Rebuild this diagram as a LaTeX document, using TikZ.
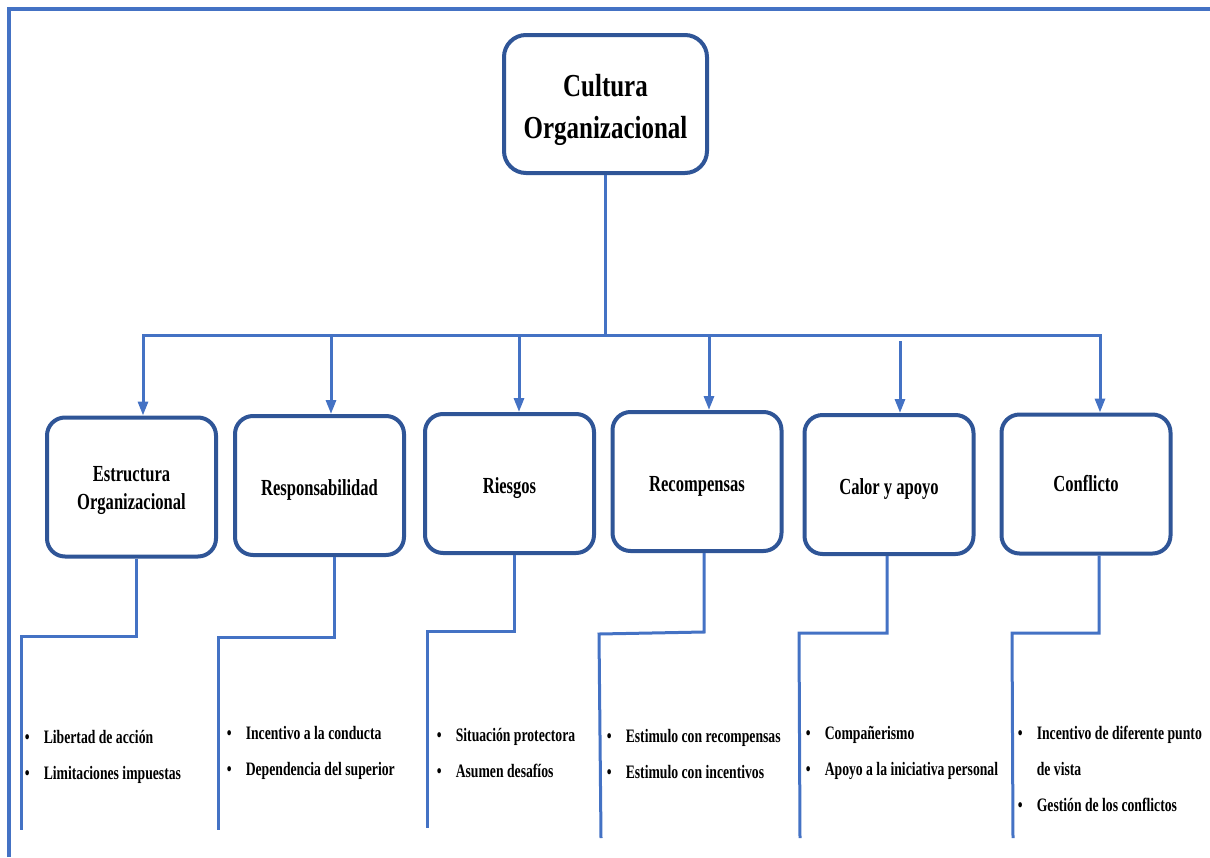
\documentclass[tikz,border=0pt]{standalone}
\usepackage{fontspec}
\setmainfont{Liberation Serif}
\newfontfamily\narrowserif[FakeStretch=0.72]{Liberation Serif}
\newfontfamily\headserif[FakeStretch=0.78]{Liberation Serif}
\usetikzlibrary{arrows.meta}
\definecolor{linkblue}{HTML}{4472C4}
\definecolor{boxblue}{HTML}{2F5597}
\newcommand{\bul}{\makebox[19pt][l]{\textbullet}}
% centred label lowered a little inside its box, keeping its reported size
\newcommand{\lbl}[2]{\raisebox{-#1}[\height][\depth]{\begin{tabular}{@{}c@{}}#2\end{tabular}}}

\begin{document}
\begin{tikzpicture}[x=1pt,y=-1pt,
  link/.style={draw=linkblue, line width=3pt},
  arr/.style={link, -{Triangle[width=10pt,length=14pt]}},
  frame/.style={draw=linkblue, line width=4pt, line join=miter},
  box/.style={draw=boxblue, line width=4pt, fill=white, rounded corners=18pt,
    minimum width=169pt, minimum height=139pt, align=center, inner sep=0pt,
    font=\narrowserif\bfseries\fontsize{23}{28}\selectfont},
  topbox/.style={box, minimum width=203pt, minimum height=138pt, rounded corners=22pt,
    font=\headserif\bfseries\fontsize{32}{42}\selectfont},
  items/.style={inner sep=0pt, anchor=base west,
    font=\narrowserif\bfseries\fontsize{19}{36}\selectfont}]
\useasboundingbox (0,0) rectangle (1210,857);

% outer frame (top and left edges)
\coordinate (fbl) at (9,857);
\coordinate (ftl) at (9,9);
\coordinate (ftr) at (1210,9);
\draw[frame] (fbl) -- (ftl) -- (ftr);

% main concept
\node[topbox] (top) at (605.5,104) {\lbl{5pt}{Cultura\\Organizacional}};

% dimensions
\node[box] (b1) at (131.5,487)   {\lbl{3pt}{Estructura\\Organizacional}};
\node[box] (b2) at (319.5,485.5) {\lbl{4pt}{Responsabilidad}};
\node[box] (b3) at (509.5,483.5) {\lbl{4pt}{Riesgos}};
\node[box] (b4) at (697,481.5)   {\lbl{4pt}{Recompensas}};
\node[box] (b5) at (889,484.5)   {\lbl{4pt}{Calor y apoyo}};
\node[box] (b6) at (1086,484)    {\lbl{2pt}{Conflicto}};

% distribution bus
\coordinate (busL) at (143,335);
\coordinate (busR) at (1100,335);
\draw[link] (top.south) -- (top.south |- busL);
\draw[link, line cap=rect] (busL) -- (busR);

\coordinate (a1) at (143,335);
\coordinate (a2) at (331,335);
\coordinate (a3) at (519,335);
\coordinate (a4) at (709,335);
\coordinate (a5) at (900,341);
\coordinate (a6) at (1100,335);
\foreach \i in {1,...,6}
  \draw[arr] (a\i) -- (a\i |- b\i.north);

% drop lines below each dimension
\coordinate (k1) at (136,636);  \coordinate (m1) at (21,636);  \coordinate (n1) at (21,830);
\coordinate (k2) at (334,637);  \coordinate (m2) at (218,637); \coordinate (n2) at (218,830);
\coordinate (k3) at (514,631);  \coordinate (m3) at (427,631); \coordinate (n3) at (427,828);
\coordinate (k4) at (704,632);  \coordinate (m4) at (599,634); \coordinate (n4) at (601,838);
\coordinate (k5) at (887,633);  \coordinate (m5) at (799,633); \coordinate (n5) at (800,838);
\coordinate (k6) at (1099,633); \coordinate (m6) at (1012,633); \coordinate (n6) at (1013,838);
\foreach \i in {1,...,6}
  \draw[link, line join=miter] (b\i.south -| k\i) -- (k\i) -- (m\i) -- (n\i);

% item lists
\node[items] (l1) at (24.6,743) {\begin{tabular}[t]{@{}l@{}}
  \bul Libertad de acción\\ \bul Limitaciones impuestas\end{tabular}};
\node[items] (l2) at (226.6,739) {\begin{tabular}[t]{@{}l@{}}
  \bul Incentivo a la conducta\\ \bul Dependencia del superior\end{tabular}};
\node[items] (l3) at (436.6,741) {\begin{tabular}[t]{@{}l@{}}
  \bul Situación protectora\\ \bul Asumen desafíos\end{tabular}};
\node[items] (l4) at (606.6,742) {\begin{tabular}[t]{@{}l@{}}
  \bul Estimulo con recompensas\\ \bul Estimulo con incentivos\end{tabular}};
\node[items] (l5) at (805.6,739) {\begin{tabular}[t]{@{}l@{}}
  \bul Compañerismo\\ \bul Apoyo a la iniciativa personal\end{tabular}};
\node[items] (l6) at (1017.6,739) {\begin{tabular}[t]{@{}l@{}}
  \bul Incentivo de diferente punto\\ \hspace*{19pt}de vista\\ \bul Gestión de los conflictos\end{tabular}};
\end{tikzpicture}
\end{document}
